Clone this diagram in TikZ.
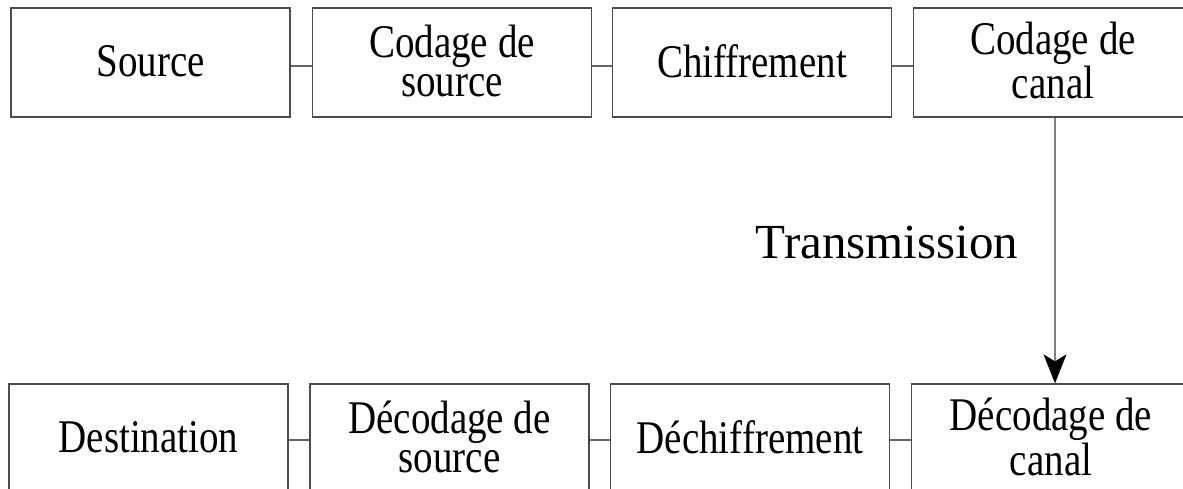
\documentclass[tikz,border=0pt]{standalone}
\usepackage{fontspec}
\usepackage{graphicx}
\setmainfont{Liberation Serif}
\usetikzlibrary{arrows.meta}
\newcommand{\tallblock}[1]{\raisebox{-4pt}[\height][\depth]{\scalebox{1}[1.2]{\begin{tabular}{@{}c@{}}#1\end{tabular}}}}
\tikzset{
  x=1pt, y=-1pt,
  blockbox/.style={draw=black!70, line width=1.3pt, minimum width=279pt, minimum height=109pt,
    inner sep=0pt, align=center, font=\fontsize{39}{32.5}\selectfont},
  link/.style={draw=black!60, line width=1.2pt},
  flow/.style={draw=black!50, line width=1.3pt, -{Stealth[length=29pt, width=23pt, inset=7pt, black]}}
}
\begin{document}
\begin{tikzpicture}
\useasboundingbox (0,0) rectangle (1183,488);
\clip (0,0) rectangle (1183,488);
\node[blockbox] (s1) at (150.5,62.5) {\tallblock{Source}};
\node[blockbox] (s2) at (452,62.5) {\tallblock{Codage de\\source}};
\node[blockbox] (s3) at (752,62.5) {\tallblock{Chiffrement}};
\node[blockbox] (s4) at (1053,62.5) {\tallblock{Codage de\\canal}};
\node[blockbox] (d1) at (148.5,438.5) {\tallblock{Destination}};
\node[blockbox] (d2) at (449.5,438.5) {\tallblock{Décodage de\\source}};
\node[blockbox] (d3) at (750,438.5) {\tallblock{Déchiffrement}};
\node[blockbox] (d4) at (1051,438.5) {\tallblock{Décodage de\\canal}};
\draw[link] ([yshift=-3.5pt]s1.east) -- ([yshift=-3.5pt]s2.west);
\draw[link] ([yshift=-3.5pt]s2.east) -- ([yshift=-3.5pt]s3.west);
\draw[link] ([yshift=-3.5pt]s3.east) -- ([yshift=-3.5pt]s4.west);
\draw[link] ([yshift=-1.5pt]d1.east) -- ([yshift=-1.5pt]d2.west);
\draw[link] ([yshift=-1.5pt]d2.east) -- ([yshift=-1.5pt]d3.west);
\draw[link] ([yshift=-1.5pt]d3.east) -- ([yshift=-1.5pt]d4.west);
\draw[flow] ([xshift=2pt]s4.south) -- ([xshift=2pt]s4.south |- d4.north);
\node[anchor=base, font=\fontsize{49}{55}\selectfont] (tr) at (887,258) {Transmission};
\end{tikzpicture}
\end{document}
